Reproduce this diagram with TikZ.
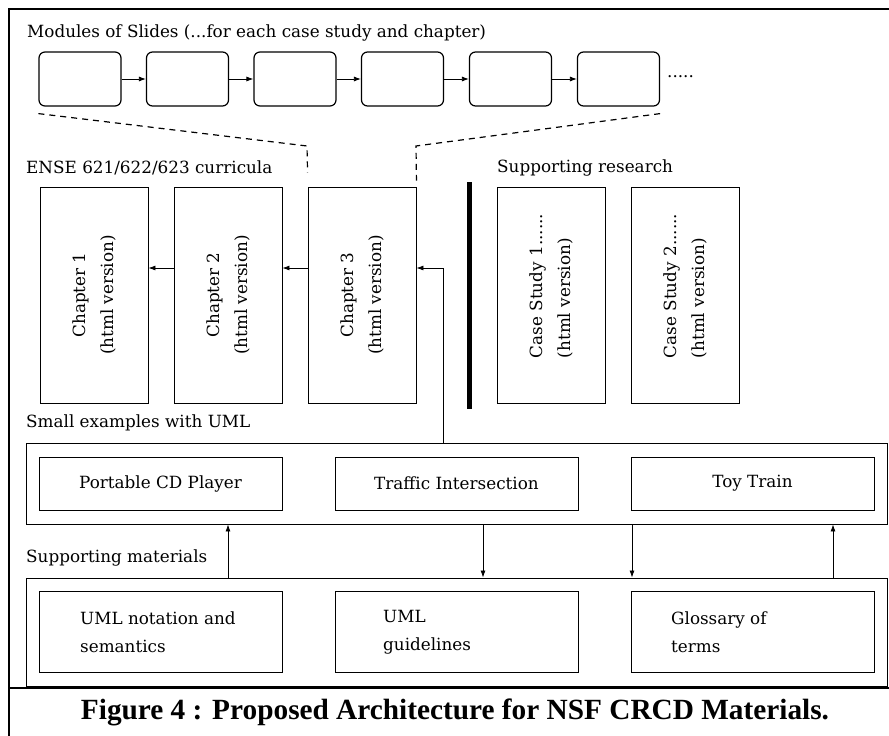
\documentclass[tikz,border=0pt]{standalone}
\usepackage{fontspec}
\setmainfont{DejaVu Serif}
\newfontfamily\capfont{Liberation Serif}
\usetikzlibrary{arrows.meta}

\newcommand{\dfont}{\fontsize{16.8}{28}\selectfont}

\begin{document}
\begin{tikzpicture}[x=1pt,y=-1pt,
  slide/.style={draw, line width=1.2pt, rounded corners=6pt, minimum width=82pt, minimum height=54pt, inner sep=0pt},
  chap/.style={draw, line width=0.9pt, minimum width=108pt, minimum height=216pt, inner sep=0pt},
  item/.style={draw, line width=0.9pt, minimum width=243pt, inner sep=0pt},
  group/.style={draw, line width=0.9pt, minimum width=861pt, inner sep=0pt},
  lbl/.style={anchor=west, inner sep=0pt, font=\dfont},
  vtext/.style={rotate=90, inner sep=0pt, font=\dfont},
  tip/.style={-{Latex[length=7pt,width=5pt]}, line width=0.8pt},
  link/.style={line width=1.2pt, dash pattern=on 6pt off 5pt},
]
\useasboundingbox (0,0) rectangle (889,736);

% outer frame and caption rule
\draw[line width=2.5pt] (889,9) -- (9,9) -- (9,736);
\draw[line width=2.5pt] (9,688) -- (889,688);

% modules of slides
\node[lbl] (tslides) at (27,33) {Modules of Slides (...for each case study and chapter)};
\node[slide] (s1) at (80,79) {};
\node[slide] (s2) at (187.5,79) {};
\node[slide] (s3) at (295,79) {};
\node[slide] (s4) at (402.5,79) {};
\node[slide] (s5) at (510.5,79) {};
\node[slide] (s6) at (618.5,79) {};
\node[lbl] (sdots) at (667,77) {.....};
\foreach \a/\b in {s1/s2,s2/s3,s3/s4,s4/s5,s5/s6}
  \draw[tip] (\a.east) -- (\b.west);

% curricula
\node[lbl] (tcurr) at (26,168) {ENSE 621/622/623 curricula};
\node[chap] (c1) at (94,295) {};
\node[chap] (c2) at (228,295) {};
\node[chap] (c3) at (362,295) {};
\node[vtext, align=center] (c1t) at (c1) {Chapter 1\\(html version)};
\node[vtext, align=center] (c2t) at (c2) {Chapter 2\\(html version)};
\node[vtext, align=center] (c3t) at (c3) {Chapter 3\\(html version)};
\draw[tip] ([yshift=27pt]c2.west) -- ([yshift=27pt]c1.east);
\draw[tip] ([yshift=27pt]c3.west) -- ([yshift=27pt]c2.east);

% slides expand into a chapter
\draw[link] ([yshift=-7pt]s1.south west) -- (307,146) -- ([yshift=14pt]c3.north west);
\draw[link] ([yshift=-7pt]s6.south east) -- (416,146) -- ([yshift=6pt]c3.north east);

% separator bar
\draw[line width=5pt] (469,182) -- (469,409);

% supporting research
\node[lbl] (tres) at (497,168) {Supporting research};
\node[chap] (r1) at (551,295) {};
\node[chap] (r2) at (685,295) {};
\node[vtext, align=left] (r1t) at (551,286) {Case Study 1......\\(html version)};
\node[vtext, align=left] (r2t) at (685,286) {Case Study 2......\\(html version)};

% small examples
\node[lbl] (tex) at (26,423) {Small examples with UML};
\node[group, minimum height=81pt] (ex) at (456.5,483.5) {};
\node[item, minimum height=53pt, font=\dfont] (e1) at (160.5,483.5) {Portable CD Player};
\node[item, minimum height=53pt, font=\dfont] (e2) at (456.5,483.5) {Traffic Intersection};
\node[item, minimum height=53pt, font=\dfont] (e3) at (752.5,483.5) {Toy Train};

% examples feed chapter 3
\coordinate (j) at (443,268);
\draw[tip] (ex.north -| j) -- (j) -- ([yshift=27pt]c3.east);

% supporting materials
\node[lbl] (tmat) at (26,558) {Supporting materials};
\node[group, minimum height=108pt] (mat) at (456.5,632) {};
\node[item, minimum height=81pt] (m1) at (160.5,631.5) {};
\node[item, minimum height=81pt] (m2) at (456.5,631.5) {};
\node[item, minimum height=81pt] (m3) at (752.5,631.5) {};
\node[lbl, align=left] (m1t) at (80,632.5) {UML notation and\\semantics};
\node[lbl, align=left] (m2t) at (383,632.5) {UML\\guidelines};
\node[lbl, align=left] (m3t) at (671,632.5) {Glossary of\\terms};

% links between examples and materials
\coordinate (u1) at (228,0);
\coordinate (d1) at (483,0);
\coordinate (d2) at (632,0);
\coordinate (u2) at (833,0);
\draw[tip] (mat.north -| u1) -- (ex.south -| u1);
\draw[tip] (ex.south -| d1) -- (mat.north -| d1);
\draw[tip] (ex.south -| d2) -- (mat.north -| d2);
\draw[tip] (mat.north -| u2) -- (ex.south -| u2);

% caption
\node[inner sep=0pt, font=\capfont\bfseries\fontsize{29.3}{34}\selectfont] (cap) at (455,712)
  {Figure 4 : Proposed Architecture for NSF CRCD Materials.};
\end{tikzpicture}
\end{document}
